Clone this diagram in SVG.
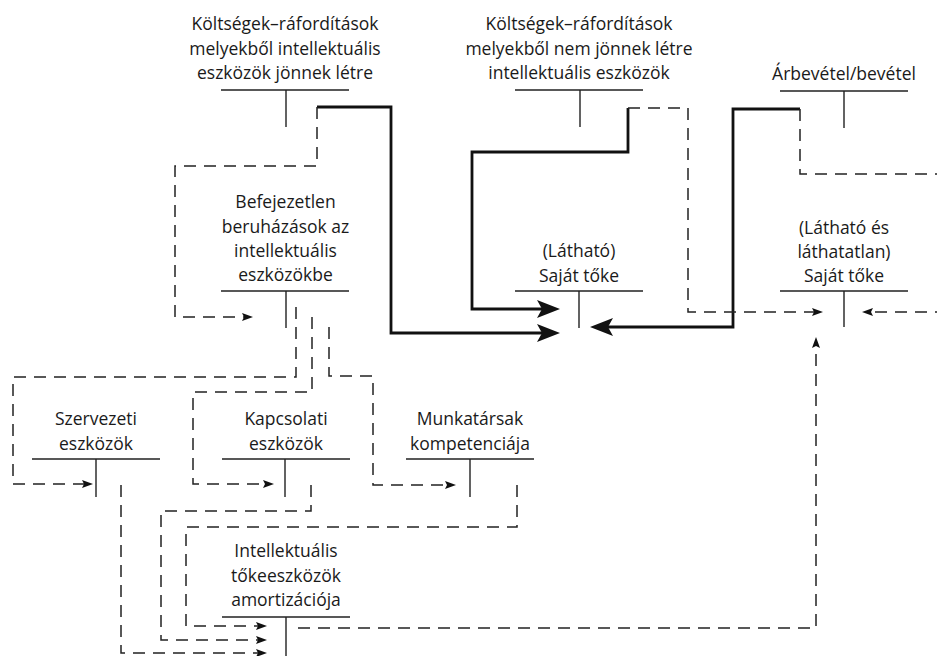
<svg xmlns="http://www.w3.org/2000/svg" width="937" height="656" viewBox="0 0 937 656">
  <style>
    .bg { fill: #ffffff; }
    .lbl { font-family: "Open Sans", "Noto Sans", "DejaVu Sans", sans-serif; font-size: 17.5px; fill: #1a1a1a; text-anchor: middle; }
    .t { stroke: #222222; stroke-width: 1.4; fill: none; }
    .solid { stroke: #111111; stroke-width: 2.8; fill: none; stroke-linejoin: miter; }
    .dash { stroke: #222222; stroke-width: 1.5; fill: none; stroke-dasharray: 12 8; }
  </style>
  <defs>
    <marker id="bigArrow" markerUnits="userSpaceOnUse" markerWidth="24" markerHeight="18" viewBox="0 0 24 18" refX="5" refY="9" orient="auto">
      <path d="M0,0 L23,9 L0,18 L5,9 z" fill="#111111"/>
    </marker>
    <marker id="smallArrow" markerUnits="userSpaceOnUse" markerWidth="12" markerHeight="8" viewBox="0 0 12 8" refX="2" refY="4" orient="auto">
      <path d="M0,0 L11,4 L0,8 L2,4 z" fill="#111111"/>
    </marker>
  </defs>
  <rect class="bg" x="0" y="0" width="937" height="656"/>

  <!-- connectors -->
  <g id="connectors">
    <!-- solid flows into equity -->
    <path class="solid" d="M317,107 H391 V333 H542" marker-end="url(#bigArrow)"/>
    <path class="solid" d="M628,108 V152 H472 V309 H542" marker-end="url(#bigArrow)"/>
    <path class="solid" d="M800,109 H733 V327 H608" marker-end="url(#bigArrow)"/>
    <!-- dashed flows -->
    <path class="dash" d="M317,107 V166 H175 V317 H244" marker-end="url(#smallArrow)"/>
    <path class="dash" d="M628,108 H688 V312 H814" marker-end="url(#smallArrow)"/>
    <path class="dash" d="M800,109 V174 H942 V312 H871" marker-end="url(#smallArrow)"/>
    <path class="dash" d="M296,307 V377 H13 V484 H84" marker-end="url(#smallArrow)"/>
    <path class="dash" d="M312,317 V392 H193 V484 H265" marker-end="url(#smallArrow)"/>
    <path class="dash" d="M329,327 V376 H373 V485 H447" marker-end="url(#smallArrow)"/>
    <path class="dash" d="M121,485 V653 H258" marker-end="url(#smallArrow)"/>
    <path class="dash" d="M311,485 V511 H161 V640 H258" marker-end="url(#smallArrow)"/>
    <path class="dash" d="M517,485 V527 H186 V626 H258" marker-end="url(#smallArrow)"/>
    <path class="dash" d="M298,628 H816 V346" marker-end="url(#smallArrow)"/>
  </g>

  <!-- T-account nodes -->
  <g id="cost-creating">
    <text class="lbl" x="285" y="30"><tspan x="285">Költségek–ráfordítások</tspan><tspan x="285" y="54.5">melyekből intellektuális</tspan><tspan x="285" y="79">eszközök jönnek létre</tspan></text>
    <path class="t" d="M221,90 H349 M286,90 V127"/>
  </g>
  <g id="cost-noncreating">
    <text class="lbl" x="579" y="30"><tspan x="579">Költségek–ráfordítások</tspan><tspan x="579" y="54.5">melyekből nem jönnek létre</tspan><tspan x="579" y="79">intellektuális eszközök</tspan></text>
    <path class="t" d="M515,90 H643 M580,90 V127"/>
  </g>
  <g id="revenue">
    <text class="lbl" x="844" y="80">Árbevétel/bevétel</text>
    <path class="t" d="M780,91 H908 M844,91 V128"/>
  </g>
  <g id="unfinished-investment">
    <text class="lbl" x="285.5" y="208"><tspan x="285.5">Befejezetlen</tspan><tspan x="285.5" y="232.5">beruházások az</tspan><tspan x="285.5" y="257">intellektuális</tspan><tspan x="285.5" y="281">eszközökbe</tspan></text>
    <path class="t" d="M221,291 H349 M286,291 V328"/>
  </g>
  <g id="visible-equity">
    <text class="lbl" x="579" y="257"><tspan x="579">(Látható)</tspan><tspan x="579" y="281.5">Saját tőke</tspan></text>
    <path class="t" d="M515,291 H643 M579,291 V328"/>
  </g>
  <g id="total-equity">
    <text class="lbl" x="844" y="234"><tspan x="844">(Látható és</tspan><tspan x="844" y="258">láthatatlan)</tspan><tspan x="844" y="282">Saját tőke</tspan></text>
    <path class="t" d="M780,291 H908 M844,291 V327"/>
  </g>
  <g id="organisational">
    <text class="lbl" x="96" y="425"><tspan x="96">Szervezeti</tspan><tspan x="96" y="449.5">eszközök</tspan></text>
    <path class="t" d="M32,459 H160 M96,459 V497"/>
  </g>
  <g id="relational">
    <text class="lbl" x="286" y="425"><tspan x="286">Kapcsolati</tspan><tspan x="286" y="449.5">eszközök</tspan></text>
    <path class="t" d="M222,459 H350 M285,459 V497"/>
  </g>
  <g id="human">
    <text class="lbl" x="470" y="425"><tspan x="470">Munkatársak</tspan><tspan x="470" y="449.5">kompetenciája</tspan></text>
    <path class="t" d="M406,459 H534 M470,459 V497"/>
  </g>
  <g id="amortisation">
    <text class="lbl" x="286" y="557"><tspan x="286">Intellektuális</tspan><tspan x="286" y="581.5">tőkeeszközök</tspan><tspan x="286" y="606">amortizációja</tspan></text>
    <path class="t" d="M222,617 H350 M286,617 V656"/>
  </g>
</svg>
